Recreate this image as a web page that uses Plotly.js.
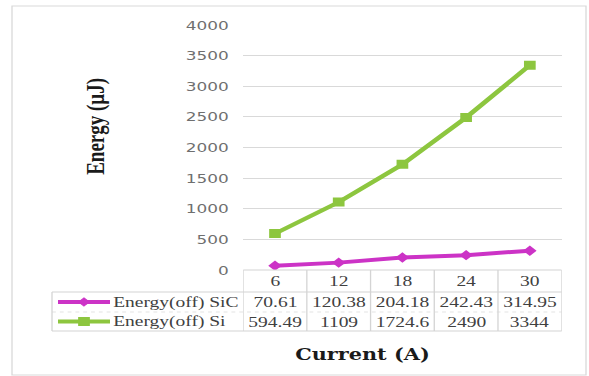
<!DOCTYPE html>
<html>
<head>
<meta charset="utf-8">
<script src="https://cdn.plot.ly/plotly-3.0.1.min.js"></script>
<style>
html,body{margin:0;padding:0;background:#fff;overflow:hidden;width:589px;height:376px;}
#chart{width:453px;height:376px;transform:scaleX(1.3002);transform-origin:0 0;}
</style>
</head>
<body>
<div id="chart"></div>
<script>
// ---- data ----
const currents = ['6', '12', '18', '24', '30'];
const sicEnergy = [70.61, 120.38, 204.18, 242.43, 314.95];
const siEnergy = [594.49, 1109, 1724.6, 2490, 3344];
const seriesNames = ['Energy(off) SiC', 'Energy(off) Si'];
const yTicks = [0, 500, 1000, 1500, 2000, 2500, 3000, 3500, 4000];
const xTitle = 'Current (A)';
const yTitle = 'Energy (µJ)';

// ---- style ----
const W = 453, H = 376;
const M = {l: 187, r: 21, t: 25, b: 106};
const plotW = W - M.l - M.r, plotH = H - M.t - M.b;
const px2x = p => (p - M.l) / plotW;           // internal px -> paper x
const py2y = p => (H - M.b - p) / plotH;       // px -> paper y
const sx = 589 / W;
const fx = p => px2x(p / sx);                  // final px -> paper x
const colors = ['#cc33c6', '#8dc63f'];
const symbols = ['diamond', 'square'];
const lineCol = '#d4d4d4';
const tableFont = {family: 'Liberation Serif', size: 15, color: '#404040'};

const traces = [sicEnergy, siEnergy].map((vals, i) => ({
  type: 'scatter', mode: 'lines+markers', x: currents, y: vals,
  name: seriesNames[i],
  line: {color: colors[i], width: 4},
  marker: {symbol: symbols[i], size: i === 0 ? 8 : 9, color: colors[i]},
  hoverinfo: 'skip'
}));

// table geometry (final pixel rows)
const yTop = py2y(270), yR1 = py2y(292), yR2 = py2y(312), yBot = py2y(331);
const rowCenters = [py2y(302), py2y(321.5)];
const headerCenter = py2y(281);
const xLeft = fx(52);

const shapes = [];
// outer frame
shapes.push({type: 'rect', xref: 'paper', yref: 'paper', x0: fx(12), x1: fx(586), y0: py2y(375), y1: py2y(6),
  line: {color: '#d9d9d9', width: 1}, fillcolor: 'rgba(0,0,0,0)', layer: 'below'});
// horizontal table lines
shapes.push({type: 'line', xref: 'x', yref: 'paper', x0: -0.5, x1: currents.length - 0.5, y0: yTop, y1: yTop, line: {color: lineCol, width: 1}});
[yR1, yBot].forEach(y => shapes.push({type: 'line', xref: 'paper', yref: 'paper', x0: xLeft, x1: 1, y0: y, y1: y, line: {color: lineCol, width: 1}}));
shapes.push({type: 'line', xref: 'paper', yref: 'paper', x0: xLeft, x1: 1, y0: yR2, y1: yR2, line: {color: '#e4e4e4', width: 1, dash: 'dot'}});
// vertical table lines
for (let k = 0; k <= currents.length; k++) {
  shapes.push({type: 'line', xref: 'x', yref: 'paper', x0: k - 0.5, x1: k - 0.5, y0: yTop, y1: yBot, line: {color: lineCol, width: 1}});
}
shapes.push({type: 'line', xref: 'paper', yref: 'paper', x0: xLeft, x1: xLeft, y0: yR1, y1: yBot, line: {color: lineCol, width: 1}});
// legend keys
rowCenters.forEach((yc, i) => {
  shapes.push({type: 'line', xref: 'paper', yref: 'paper', x0: fx(58), x1: fx(110), y0: yc, y1: yc, line: {color: colors[i], width: 4}});
  const ax = fx(84);
  const path = i === 0 ? 'M0,-4 L4,0 L0,4 L-4,0 Z' : 'M-4,-4 L4,-4 L4,4 L-4,4 Z';
  shapes.push({type: 'path', xref: 'paper', yref: 'paper', xsizemode: 'pixel', ysizemode: 'pixel', xanchor: ax, yanchor: yc,
    path: path, fillcolor: colors[i], line: {color: colors[i], width: 1}});
});

const annotations = [];
currents.forEach((c, k) => {
  annotations.push({xref: 'x', yref: 'paper', x: k, y: headerCenter, text: c, showarrow: false, font: tableFont, xanchor: 'center', yanchor: 'middle'});
  [sicEnergy, siEnergy].forEach((vals, i) => {
    annotations.push({xref: 'x', yref: 'paper', x: k, y: rowCenters[i], text: String(vals[k]), showarrow: false, font: tableFont, xanchor: 'center', yanchor: 'middle'});
  });
});
seriesNames.forEach((n, i) => {
  annotations.push({xref: 'paper', yref: 'paper', x: fx(111), y: rowCenters[i], text: n, showarrow: false, font: tableFont, xanchor: 'left', yanchor: 'middle'});
});
annotations.push({xref: 'paper', yref: 'paper', x: fx(363), y: py2y(354), text: xTitle, showarrow: false,
  font: {family: 'DejaVu Serif', size: 16, color: '#1a1a1a', weight: 'bold'}, xanchor: 'center', yanchor: 'middle'});
annotations.push({xref: 'paper', yref: 'paper', x: fx(96), y: py2y(126), text: yTitle, showarrow: false, textangle: -90,
  font: {family: 'Liberation Serif', size: 19, color: '#1a1a1a', weight: 'bold'}, xanchor: 'center', yanchor: 'middle'});

const layout = {
  width: W, height: H,
  margin: M,
  paper_bgcolor: '#ffffff', plot_bgcolor: '#ffffff',
  showlegend: false,
  xaxis: {type: 'category', categoryarray: currents, range: [-0.5, currents.length - 0.5], showticklabels: false,
    showgrid: false, zeroline: false, showline: false, ticks: '', fixedrange: true},
  yaxis: {range: [0, 4000], tickvals: yTicks, ticktext: yTicks.map(String), showgrid: true, gridcolor: '#d9d9d9', gridwidth: 1,
    zeroline: false, showline: false, ticks: '', ticklabelstandoff: 10,
    tickfont: {family: 'DejaVu Sans', size: 13, color: '#6f6f6f'}, fixedrange: true},
  shapes: shapes,
  annotations: annotations
};

Plotly.newPlot('chart', traces, layout, {displayModeBar: false, staticPlot: true});
</script>
</body>
</html>
